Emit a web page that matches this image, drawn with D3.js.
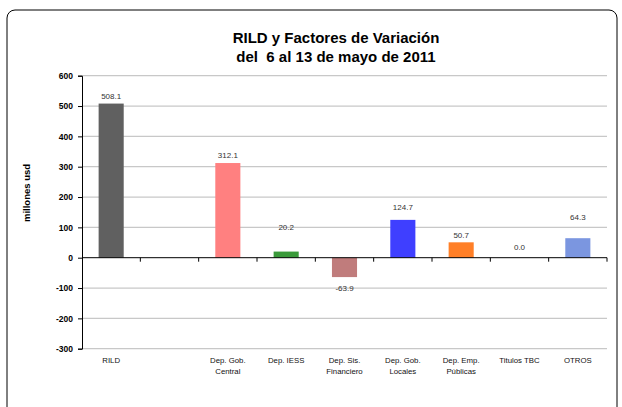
<!DOCTYPE html>
<html>
<head>
<meta charset="utf-8">
<script src="https://cdn.jsdelivr.net/npm/d3@7"></script>
<style>
  body { margin: 0; background: #fff; }
  text { font-family: "Liberation Sans", Arial, sans-serif; }
</style>
</head>
<body>
<svg id="chart" width="622" height="407"></svg>
<script>
// data
const categories = ["RILD", "", "Dep. Gob.|Central", "Dep. IESS", "Dep. Sis.|Financiero",
                    "Dep. Gob.|Locales", "Dep. Emp.|Públicas", "Titulos TBC", "OTROS"];
const values = [508.1, null, 312.1, 20.2, -63.9, 124.7, 50.7, 0.0, 64.3];
const yTicks = [600, 500, 400, 300, 200, 100, 0, -100, -200, -300];

// styling (kept apart from the data)
const barColors = ["#606060", "none", "#ff8080", "#3a9a3a", "#c07c7c",
                   "#3f3fff", "#ff7f27", "#888", "#7b96e0"];
const labelGap = [7, 0, 8, 24, 11, 13, 7, 11, 21];

// plain hyphen for negatives, like the original
const fmt1 = v => v.toFixed(1);
const fmt0 = v => String(v);

const svg = d3.select("#chart");

// outer frame
svg.append("rect")
  .attr("x", 7).attr("y", 10)
  .attr("width", 610).attr("height", 420)
  .attr("rx", 8)
  .attr("fill", "#fff").attr("stroke", "#000").attr("stroke-width", 1);

// title
const title = svg.append("text")
  .attr("text-anchor", "middle")
  .attr("font-size", 15).attr("font-weight", "bold").attr("fill", "#000");
title.append("tspan").attr("x", 336).attr("y", 43).text("RILD y Factores de Variación");
title.append("tspan").attr("x", 336).attr("y", 62).attr("xml:space", "preserve").text("del  6 al 13 de mayo de 2011");

const plotL = 82, plotR = 607, plotT = 75.7, plotB = 348.7;

const x = d3.scaleBand()
  .domain(d3.range(categories.length))
  .range([plotL, plotR])
  .paddingInner(0.57)
  .paddingOuter(0.285);

const y = d3.scaleLinear().domain([-300, 600]).range([plotB, plotT]);

// grid lines
svg.append("g").selectAll("line")
  .data(yTicks.filter(d => d !== 0))
  .join("line")
  .attr("x1", plotL).attr("x2", plotR)
  .attr("y1", d => y(d)).attr("y2", d => y(d))
  .attr("stroke", "#c8c8c8").attr("stroke-width", 1.3);

// y axis
const yAxis = svg.append("g")
  .attr("transform", `translate(${plotL},0)`)
  .call(d3.axisLeft(y).tickValues(yTicks).tickSize(4).tickPadding(5).tickFormat(fmt0));
yAxis.select(".domain").attr("stroke", "#000");
yAxis.selectAll(".tick line").attr("stroke", "#000");
yAxis.selectAll("text")
  .attr("font-size", 8.5).attr("font-weight", "bold").attr("fill", "#000")
  .attr("font-family", "Liberation Sans, Arial, sans-serif");

// y axis title
svg.append("text")
  .attr("transform", "translate(30,193) rotate(-90)")
  .attr("text-anchor", "middle")
  .attr("font-size", 9.5).attr("font-weight", "bold").attr("fill", "#000")
  .text("millones usd");

// bars
svg.append("g").selectAll("rect")
  .data(values.map((v, i) => ({ v, i })).filter(d => d.v !== null && d.v !== 0))
  .join("rect")
  .attr("x", d => x(d.i))
  .attr("width", x.bandwidth())
  .attr("y", d => y(Math.max(0, d.v)))
  .attr("height", d => Math.abs(y(d.v) - y(0)))
  .attr("fill", d => barColors[d.i]);

// zero axis with category-boundary ticks
svg.append("line")
  .attr("x1", plotL).attr("x2", plotR)
  .attr("y1", y(0)).attr("y2", y(0))
  .attr("stroke", "#000").attr("stroke-width", 1);
svg.append("g").selectAll("line")
  .data(d3.range(1, categories.length + 1))
  .join("line")
  .attr("x1", i => x(i - 1) + x.bandwidth() + x.step() * x.paddingInner() / 2)
  .attr("x2", i => x(i - 1) + x.bandwidth() + x.step() * x.paddingInner() / 2)
  .attr("y1", y(0)).attr("y2", y(0) + 4)
  .attr("stroke", "#000");

// value labels
svg.append("g").selectAll("text")
  .data(values.map((v, i) => ({ v, i })).filter(d => d.v !== null))
  .join("text")
  .attr("x", d => x(d.i) + x.bandwidth() / 2)
  .attr("y", d => d.v >= 0 ? y(d.v) - labelGap[d.i] : y(d.v) + labelGap[d.i])
  .attr("dy", "0.35em")
  .attr("text-anchor", "middle")
  .attr("font-size", 8).attr("fill", "#333")
  .text(d => fmt1(d.v));

// category labels
const cat = svg.append("g").selectAll("text")
  .data(categories.map((c, i) => ({ c, i })))
  .join("text")
  .attr("text-anchor", "middle")
  .attr("font-size", 7.8).attr("fill", "#111")
  .attr("y", 363);
cat.each(function (d) {
  const lines = d.c.split("|");
  lines.forEach((t, k) => {
    d3.select(this).append("tspan")
      .attr("x", x(d.i) + x.bandwidth() / 2)
      .attr("y", 363 + k * 10.5)
      .text(t);
  });
});
</script>
</body>
</html>
